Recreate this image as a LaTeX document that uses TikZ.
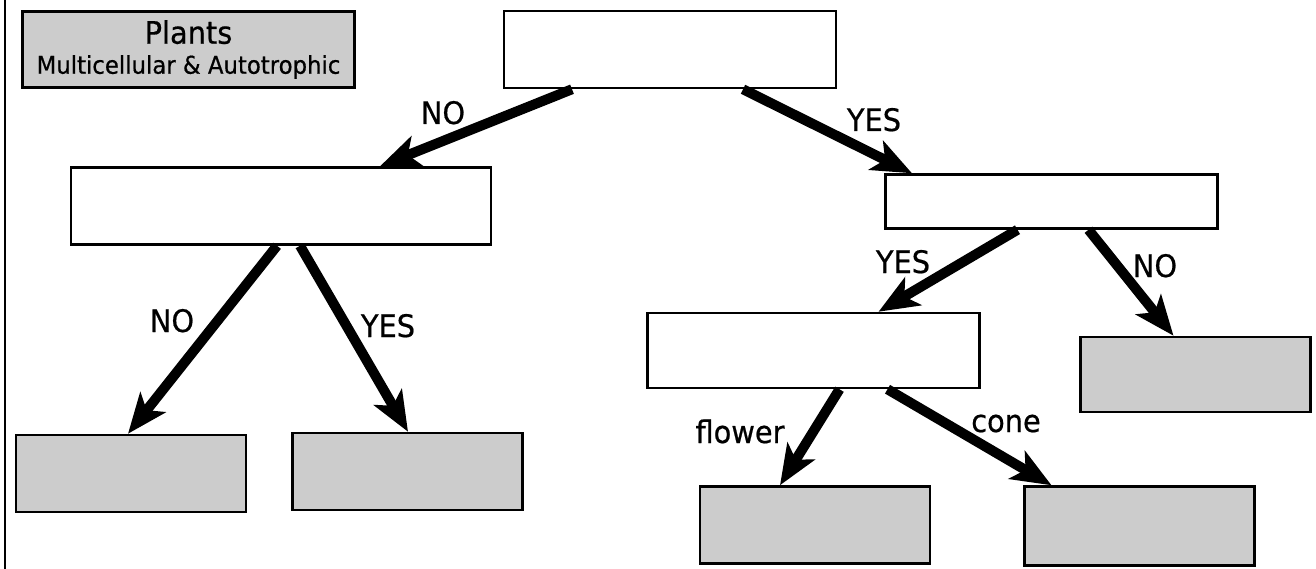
\documentclass[tikz,border=0pt]{standalone}
\usepackage{fontspec}
\setmainfont{DejaVu Sans}[FakeStretch=0.93, FakeBold=0.6]
\usetikzlibrary{arrows.meta, positioning}

\begin{document}
\begin{tikzpicture}[
  x=1pt, y=-1pt,
  blank/.style={rectangle, draw=black, line width=2.5pt, fill=white, minimum width=332pt, minimum height=77pt, inner sep=0pt},
  shaded/.style={rectangle, draw=black, line width=2.5pt, fill=black!20, minimum width=230pt, minimum height=77pt, inner sep=0pt},
  lbl/.style={font=\fontsize{31}{36}\selectfont, anchor=base, inner sep=0pt},
  arrow/.style={line width=10pt, -{Stealth[length=40pt, width=32pt, inset=10pt]}}
]
\useasboundingbox (0,0) rectangle (1316,569);
\draw[line width=2pt] (5,0) -- (5,569);

\node[blank] (top) at (670,49.5) {};
\node[shaded, minimum width=332pt, minimum height=76pt, left=147pt of top, align=center,
      font=\fontsize{24.5}{30}\selectfont] (title) {{\fontsize{31}{30}\selectfont Plants}\\Multicellular \& Autotrophic};

\node[blank, minimum width=420pt, below=77pt of top.south, xshift=-389pt] (seeds) {};
\node[blank, minimum height=54pt, below=84pt of top.south, xshift=381.5pt] (vasc) {};

\node[shaded, below=188pt of seeds.south, xshift=-150pt] (moss) {};
\node[shaded, below=186pt of seeds.south, xshift=126.5pt] (fern) {};

\node[blank, minimum height=75pt, below=82pt of vasc.south, xshift=-238pt] (seed) {};
\node[shaded, minimum height=75pt, below=106pt of vasc.south, xshift=144pt] (spore) {};

\node[shaded, below=96pt of seed.south, xshift=1.5pt] (angio) {};
\node[shaded, minimum height=79pt, below=96pt of seed.south, xshift=326pt] (gymno) {};

\draw[arrow] ([xshift=-98pt]top.south) -- ([xshift=99pt]seeds.north);
\draw[arrow] ([xshift=73pt]top.south) -- ([xshift=-139.5pt]vasc.north);
\draw[arrow] ([xshift=-4pt]seeds.south) -- ([xshift=-3pt]moss.north);
\draw[arrow] ([xshift=19pt]seeds.south) -- ([xshift=0.5pt]fern.north);
\draw[arrow] ([xshift=-34pt]vasc.south) -- ([xshift=65pt]seed.north);
\draw[arrow] ([xshift=37pt]vasc.south) -- ([xshift=-22pt]spore.north);
\draw[arrow] ([xshift=26pt]seed.south) -- ([xshift=-35pt]angio.north);
\draw[arrow] ([xshift=74pt]seed.south) -- ([xshift=-88pt]gymno.north);

\node[lbl] (noA) at (443,124) {NO};
\node[lbl] (yesA) at (874,131) {YES};
\node[lbl] (noB) at (172,332) {NO};
\node[lbl] (yesB) at (388,337) {YES};
\node[lbl] (yesC) at (903,273) {YES};
\node[lbl] (noC) at (1155,277) {NO};
\node[lbl] (flw) at (740,443) {flower};
\node[lbl] (cne) at (1006,432) {cone};
\end{tikzpicture}
\end{document}
